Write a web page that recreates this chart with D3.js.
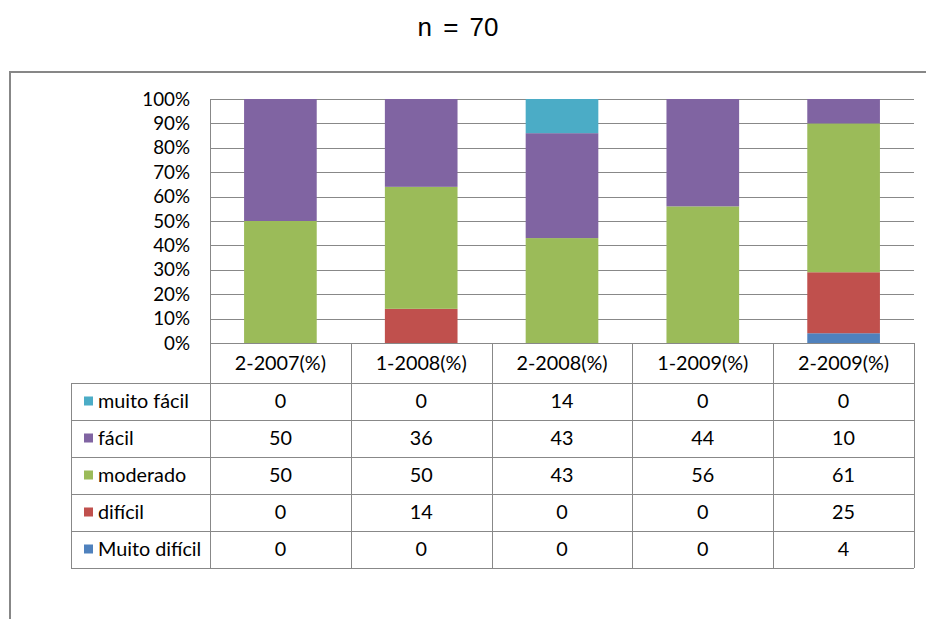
<!DOCTYPE html>
<html>
<head>
<meta charset="utf-8">
<script src="https://cdn.jsdelivr.net/npm/d3@7"></script>
<style>
  html, body { margin: 0; padding: 0; background: #fff; }
  svg { display: block; }
</style>
</head>
<body>
<svg id="chart" width="926" height="619"></svg>
<script>
// Semesters on the x axis
const categories = ["2-2007(%)", "1-2008(%)", "2-2008(%)", "1-2009(%)", "2-2009(%)"];

// Difficulty ratings, listed top-to-bottom as in the data table
const seriesNames = ["muito fácil", "fácil", "moderado", "difícil", "Muito difícil"];
const muitoFacil   = [0, 0, 14, 0, 0];
const facil        = [50, 36, 43, 44, 10];
const moderado     = [50, 50, 43, 56, 61];
const dificil      = [0, 14, 0, 0, 25];
const muitoDificil = [0, 0, 0, 0, 4];
const seriesValues = [muitoFacil, facil, moderado, dificil, muitoDificil];
const seriesColors = ["#4BACC6", "#8064A2", "#9BBB59", "#C0504D", "#4F81BD"];

const yTicks = [0, 10, 20, 30, 40, 50, 60, 70, 80, 90, 100];
const titleText = "n = 70";

(function draw() {
  const svg = d3.select("#chart");
  const font = "Lato, 'Open Sans', sans-serif";
  const gridColor = "#888888";
  const tableFontSize = 19.8;

  // Plot area
  const plotL = 210, plotR = 914, plotT = 99, plotB = 343;
  const headerH = 40, rowH = 37, tableLeft = 71;

  // Outer frame
  svg.append("rect")
    .attr("x", 10).attr("y", 72)
    .attr("width", 940).attr("height", 600)
    .attr("fill", "none").attr("stroke", "#878787").attr("stroke-width", 2);

  // Title
  svg.append("text")
    .attr("x", 458).attr("y", 36)
    .attr("text-anchor", "middle")
    .attr("font-family", "'Liberation Sans', Arial, sans-serif")
    .attr("font-size", 26)
    .attr("word-spacing", 4)
    .attr("fill", "#000")
    .text(titleText);

  const x = d3.scaleBand().domain(categories).range([plotL, plotR]).paddingInner(0.484).paddingOuter(0.242);
  const xCell = d3.scaleBand().domain(categories).range([plotL, plotR]);
  const y = d3.scaleLinear().domain([0, 100]).range([plotB, plotT]);

  // Gridlines
  svg.append("g")
    .selectAll("line")
    .data(yTicks)
    .join("line")
    .attr("x1", plotL).attr("x2", plotR)
    .attr("y1", d => Math.round(y(d)) + 0.5).attr("y2", d => Math.round(y(d)) + 0.5)
    .attr("stroke", gridColor).attr("stroke-width", 1);

  // Vertical axis line
  svg.append("line")
    .attr("x1", plotL + 0.5).attr("x2", plotL + 0.5)
    .attr("y1", plotT).attr("y2", plotB)
    .attr("stroke", gridColor);

  // Y axis labels
  const yAxis = d3.axisLeft(y).tickValues(yTicks).tickFormat(d => d + "%").tickSize(0).tickPadding(20);
  const gy = svg.append("g").attr("transform", `translate(${plotL},0)`).call(yAxis);
  gy.select(".domain").remove();
  gy.selectAll("text")
    .attr("font-family", font).attr("font-size", 18.8).attr("fill", "#000");

  // Stacked bars (bottom series first)
  const rows = categories.map((c, i) => {
    const r = { cat: c };
    seriesNames.forEach((s, j) => { r[s] = seriesValues[j][i]; });
    return r;
  });
  const stacked = d3.stack().keys(seriesNames.slice().reverse())(rows);

  svg.append("g")
    .selectAll("g")
    .data(stacked)
    .join("g")
    .attr("fill", d => seriesColors[seriesNames.indexOf(d.key)])
    .selectAll("rect")
    .data(d => d)
    .join("rect")
    .attr("x", d => x(d.data.cat))
    .attr("width", x.bandwidth())
    .attr("y", d => y(d[1]))
    .attr("height", d => y(d[0]) - y(d[1]));

  // Data table
  const table = svg.append("g");
  const tableBottom = plotB + headerH + rowH * seriesNames.length;
  const lineStyle = sel => sel.attr("stroke", gridColor).attr("stroke-width", 1);

  // Horizontal rules
  table.append("line").call(lineStyle)
    .attr("x1", plotL).attr("x2", plotR).attr("y1", plotB + 0.5).attr("y2", plotB + 0.5);
  for (let k = 0; k <= seriesNames.length; k++) {
    const yy = Math.round(plotB + headerH + rowH * k) + 0.5;
    table.append("line").call(lineStyle)
      .attr("x1", tableLeft).attr("x2", plotR).attr("y1", yy).attr("y2", yy);
  }
  // Vertical rules
  table.append("line").call(lineStyle)
    .attr("x1", tableLeft + 0.5).attr("x2", tableLeft + 0.5)
    .attr("y1", plotB + headerH).attr("y2", tableBottom);
  categories.forEach(c => {
    const xx = Math.round(xCell(c)) + 0.5;
    table.append("line").call(lineStyle)
      .attr("x1", xx).attr("x2", xx).attr("y1", plotB).attr("y2", tableBottom);
  });
  table.append("line").call(lineStyle)
    .attr("x1", plotR + 0.5).attr("x2", plotR + 0.5).attr("y1", plotB).attr("y2", tableBottom);

  // Header labels
  table.selectAll("text.hdr")
    .data(categories)
    .join("text")
    .attr("class", "hdr")
    .attr("x", d => xCell(d) + xCell.bandwidth() / 2)
    .attr("y", plotB + headerH / 2)
    .attr("dy", "0.35em")
    .attr("text-anchor", "middle")
    .attr("font-family", font).attr("font-size", tableFontSize).attr("fill", "#000")
    .text(d => d);

  // Series rows: legend key, name and values
  seriesNames.forEach((s, j) => {
    const cy = plotB + headerH + rowH * j + rowH / 2;
    table.append("rect")
      .attr("x", 84).attr("y", cy - 5)
      .attr("width", 9).attr("height", 9)
      .attr("fill", seriesColors[j]);
    table.append("text")
      .attr("x", 98).attr("y", cy).attr("dy", "0.35em")
      .attr("font-family", font).attr("font-size", tableFontSize).attr("fill", "#000")
      .text(s);
    table.append("g")
      .selectAll("text")
      .data(seriesValues[j])
      .join("text")
      .attr("x", (d, i) => xCell(categories[i]) + xCell.bandwidth() / 2)
      .attr("y", cy).attr("dy", "0.35em")
      .attr("text-anchor", "middle")
      .attr("font-family", font).attr("font-size", tableFontSize).attr("fill", "#000")
      .text(d => d);
  });
})();
</script>
</body>
</html>
